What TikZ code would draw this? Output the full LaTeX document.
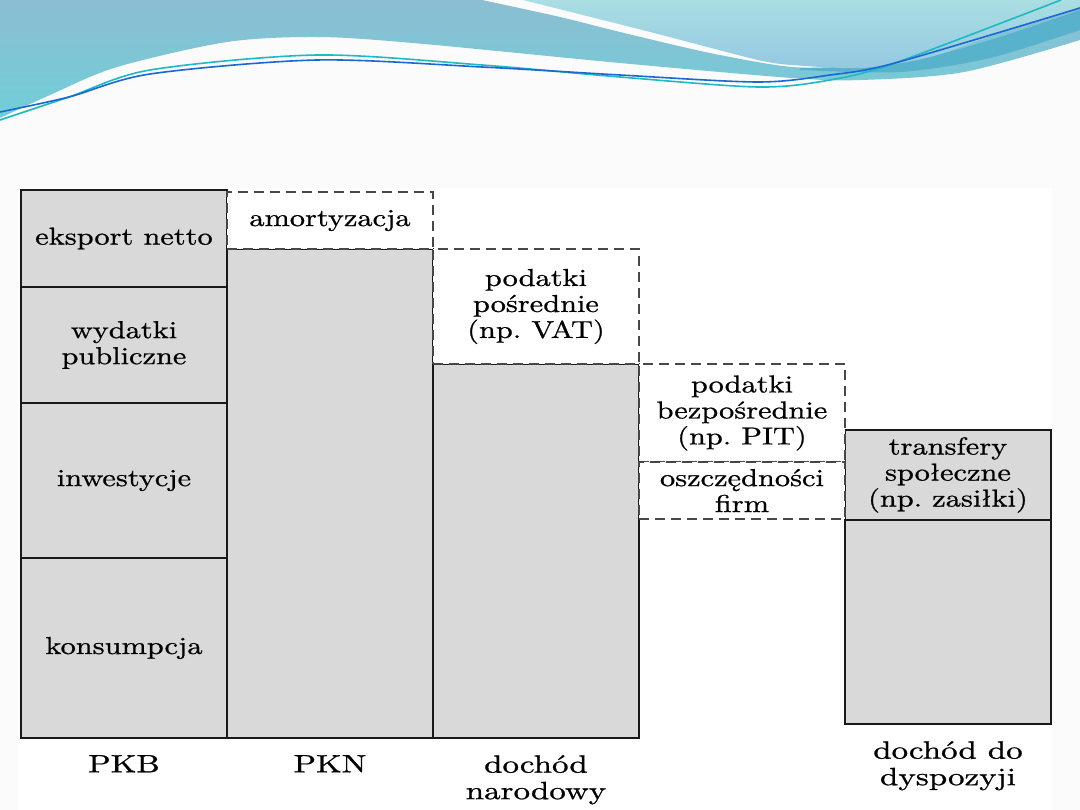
\documentclass[tikz,border=0pt]{standalone}
\usepackage{fontspec}
\setmainfont{lmroman10}[Extension=.otf,UprightFont=*-regular,BoldFont=*-bold,FakeStretch=1.24,FakeBold=0.8]
\newfontfamily\labfont{lmroman10}[Extension=.otf,UprightFont=*-regular,FakeStretch=1.32,FakeBold=0.9]
\usetikzlibrary{positioning}

\definecolor{barfill}{RGB}{217,217,217}
\definecolor{slidebg}{RGB}{251,251,251}
\definecolor{wavetop}{RGB}{139,190,210}
\definecolor{wavebot}{RGB}{112,206,216}
\definecolor{lighttop}{RGB}{170,222,226}
\definecolor{lightbot}{RGB}{148,200,226}
\definecolor{waveband}{RGB}{88,178,204}
\definecolor{lineteal}{RGB}{30,185,195}
\definecolor{lineblue}{RGB}{25,105,210}

\tikzset{
  bar/.style={draw=black!90, fill=barfill, line width=2pt, minimum width=206pt,
    inner sep=0pt, outer sep=0pt, align=center, font=\fontsize{24.5}{26}\selectfont},
  dbar/.style={bar, draw=black!72, fill=white, line width=2.2pt, dash pattern=on 10pt off 6pt},
  lab/.style={font=\labfont\fontsize{25}{26.5}\selectfont, align=center,
    inner sep=0pt, below=17pt of #1},
}

\begin{document}
\begin{tikzpicture}[x=1pt, y=-1pt]
  \useasboundingbox (0,0) rectangle (1080,810);
  \fill[slidebg] (0,0) rectangle (1080,810);
  \fill[white] (18,188) rectangle (1052,810);

  % wave at the top of the slide
  \shade[top color=wavetop, bottom color=wavebot]
    (0,0) -- (482,0)
    -- plot[smooth] coordinates {(482,0) (560,17) (620,32) (710,53) (792,67) (861,66) (930,55) (999,32) (1080,5)}
    -- (1080,40)
    -- plot[smooth] coordinates {(1080,40) (964,72) (861,80) (792,78) (620,63) (413,43) (317,37) (227,42) (117,67) (50,95) (0,118)}
    -- cycle;
  \fill[waveband]
    plot[smooth] coordinates {(800,68) (900,63) (990,40) (1080,10)}
    -- (1080,30)
    -- plot[smooth] coordinates {(1080,30) (990,58) (900,72) (800,70)}
    -- cycle;
  \shade[top color=lighttop, bottom color=lightbot]
    (523,0) -- (1080,0) -- (1080,7)
    -- plot[smooth] coordinates {(1080,7) (999,33) (930,57) (861,68) (792,65)}
    -- plot[smooth] coordinates {(792,65) (758,60) (654,33) (523,0)}
    -- cycle;
  \draw[lineteal, line width=1.6pt] plot[smooth] coordinates
    {(0,120) (69,97) (150,70) (317,55) (482,65) (620,77) (758,87) (830,80) (895,63) (1061,0)};
  \draw[lineblue, line width=1.6pt] plot[smooth] coordinates
    {(0,112) (69,97) (150,74) (317,60) (482,67) (620,75) (758,82) (830,75) (895,63) (1080,8)};

  % PKB
  \node[bar, minimum height=97pt, anchor=north west] (eks) at (21,190) {eksport netto};
  \node[bar, minimum height=116pt, below=0pt of eks] (wyd) {wydatki\\publiczne};
  \node[bar, minimum height=155pt, below=0pt of wyd] (inw) {inwestycje};
  \node[bar, minimum height=180pt, below=0pt of inw] (kon) {konsumpcja};

  % PKN
  \node[bar, minimum height=489pt, anchor=south west] (pkn) at (kon.south east) {};
  \node[dbar, minimum height=57pt, above=0pt of pkn] (amo) {amortyzacja};

  % dochod narodowy
  \node[bar, minimum height=374pt, anchor=south west] (dn) at (pkn.south east) {};
  \node[dbar, minimum height=115pt, above=0pt of dn] (vat) {podatki\\pośrednie\\(np.~VAT)};

  % dochod do dyspozycji
  \node[bar, minimum height=90pt, anchor=north west] (tra) at (845,430) {transfery\\społeczne\\(np.~zasiłki)};
  \node[bar, minimum height=204pt, below=0pt of tra] (ddd) {};

  % podatki bezposrednie i oszczednosci
  \node[dbar, minimum height=98pt, anchor=north west] (pit) at (dn.north east) {podatki\\bezpośrednie\\(np.~PIT)};
  \node[dbar, minimum height=57pt, below=0pt of pit] (osz) {oszczędności\\firm};

  % podpisy
  \node[lab=kon] (pkb) {PKB};
  \node[lab=pkn] (pknlab) {PKN};
  \node[lab=dn] (dnlab) {dochód\\narodowy};
  \node[lab=ddd] (dddlab) {dochód do\\dyspozyji};
\end{tikzpicture}
\end{document}
